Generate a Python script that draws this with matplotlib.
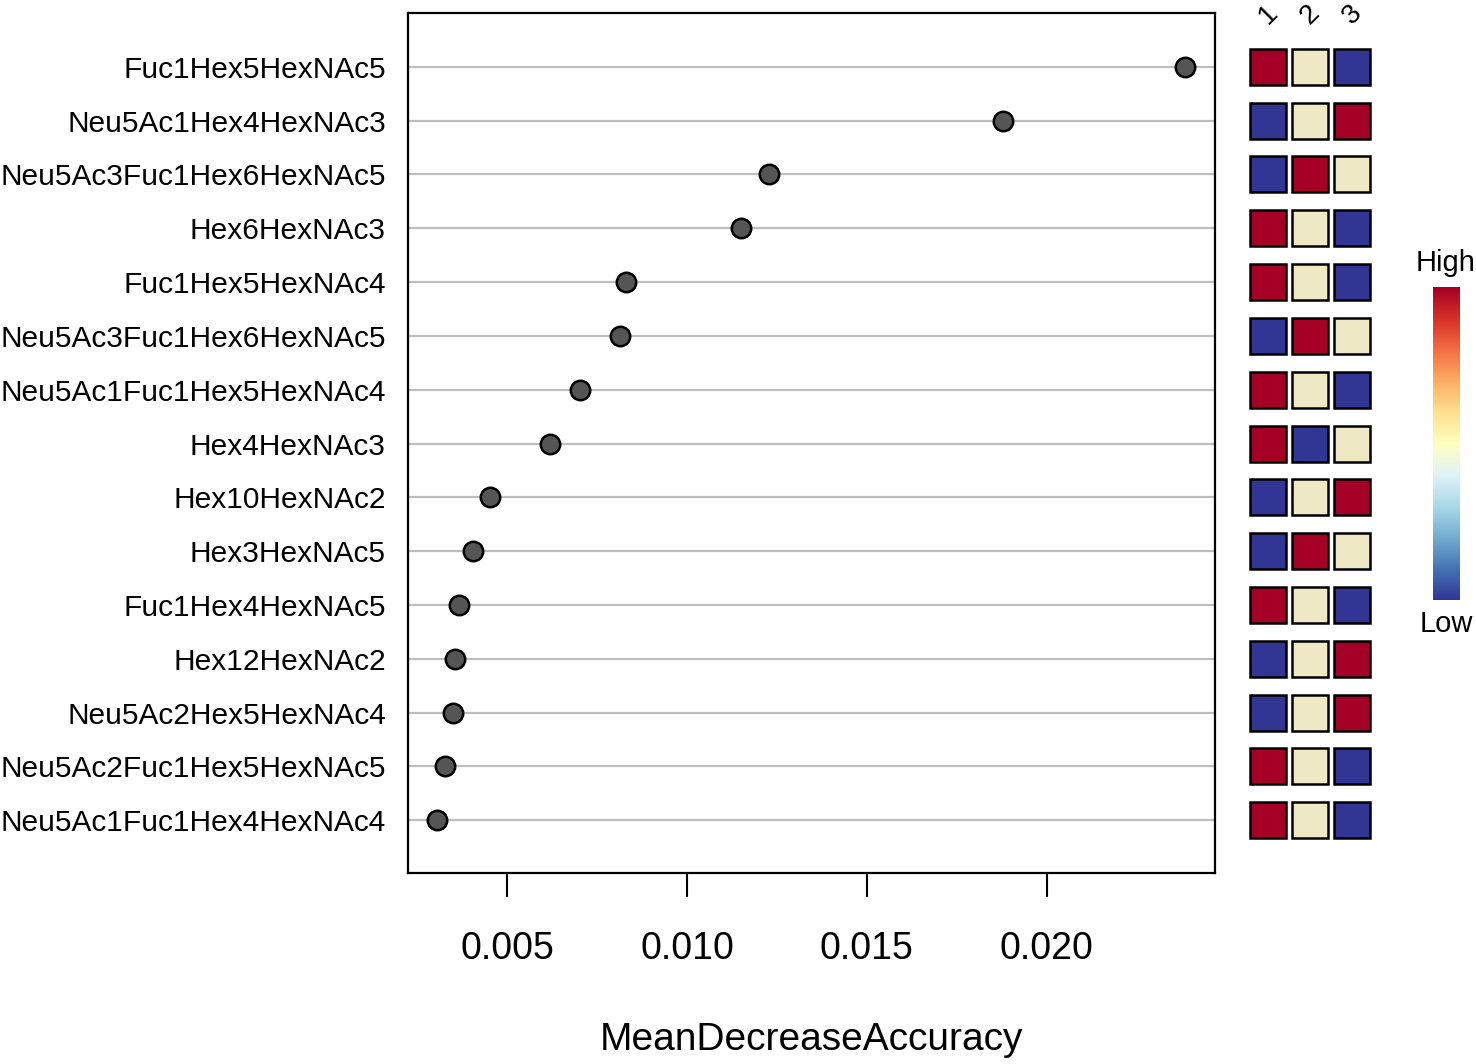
import numpy as np
import matplotlib.pyplot as plt
from matplotlib.patches import Rectangle

plt.rcParams['font.family'] = ['Liberation Sans', 'DejaVu Sans']

# Glycan features, top to bottom
features = ["Fuc1Hex5HexNAc5", "Neu5Ac1Hex4HexNAc3", "Neu5Ac3Fuc1Hex6HexNAc5",
            "Hex6HexNAc3", "Fuc1Hex5HexNAc4", "Neu5Ac3Fuc1Hex6HexNAc5",
            "Neu5Ac1Fuc1Hex5HexNAc4", "Hex4HexNAc3", "Hex10HexNAc2",
            "Hex3HexNAc5", "Fuc1Hex4HexNAc5", "Hex12HexNAc2",
            "Neu5Ac2Hex5HexNAc4", "Neu5Ac2Fuc1Hex5HexNAc5", "Neu5Ac1Fuc1Hex4HexNAc4"]

mda = [0.02383, 0.01878, 0.01228, 0.01150, 0.00830, 0.00814, 0.00703, 0.00619,
       0.00453, 0.00406, 0.00367, 0.00356, 0.00350, 0.00328, 0.00306]

# relative level per group (1 = high, 0 = mid, -1 = low)
groups = ["1", "2", "3"]
levels = [[1, 0, -1], [-1, 0, 1], [-1, 1, 0], [1, 0, -1], [1, 0, -1],
          [-1, 1, 0], [1, 0, -1], [1, -1, 0], [-1, 0, 1], [-1, 1, 0],
          [1, 0, -1], [-1, 0, 1], [-1, 0, 1], [1, 0, -1], [1, 0, -1]]

W, H = 1476, 1064
fig = plt.figure(figsize=(W / 100, H / 100), dpi=100)

def box(x0, y0, x1, y1):
    return [x0 / W, 1 - y1 / H, (x1 - x0) / W, (y1 - y0) / H]

ax = fig.add_axes(box(408, 13, 1215, 873))
y = np.arange(1, len(features) + 1)
for yi in y:
    ax.axhline(yi, color='#bebebe', lw=1.6, zorder=1)
ax.plot(mda, y, 'o', ms=14, mfc='#555555', mec='black', mew=1.8, zorder=3)
ax.set_xlim(0.00225, 0.02467)
ax.set_ylim(len(features) + 0.98, 0.0)
ax.set_yticks(y)
ax.set_yticklabels(features, fontsize=21.5)
ax.tick_params(axis='y', length=0, pad=16)
ax.set_xticks([0.005, 0.010, 0.015, 0.020])
ax.set_xticklabels(["0.005", "0.010", "0.015", "0.020"], fontsize=27)
ax.tick_params(axis='x', length=17, width=1.5, pad=25)
ax.set_xlabel("MeanDecreaseAccuracy", fontsize=28, labelpad=39)
for s in ax.spines.values():
    s.set_linewidth(1.6)

# group heatmap as separate boxes
hm = fig.add_axes(box(1247, 13, 1373, 873))
cell_cols = {1: '#a50026', 0: '#eee8c4', -1: '#313695'}
for i, row in enumerate(levels):
    for j, v in enumerate(row):
        hm.add_patch(Rectangle((j + 1 - 0.43, i + 1 - 0.335), 0.86, 0.67,
                               facecolor=cell_cols[v], edgecolor='black', lw=1.8))
hm.set_xlim(0.5, 3.5)
hm.set_ylim(len(features) + 0.98, 0.0)
hm.axis('off')
for j, g in enumerate(groups):
    fig.text((1268 + 42 * j) / W, 1 - 15 / H, g, rotation=45,
             ha='center', va='center', fontsize=20)

# colour key
cb = fig.add_axes(box(1433, 287, 1460, 600))
grad = np.linspace(1, 0, 256).reshape(-1, 1)
cb.imshow(grad, aspect='auto', cmap='RdYlBu_r')
cb.set_xticks([])
cb.set_yticks([])
for s in cb.spines.values():
    s.set_visible(False)
fig.text(1446 / W, 1 - 263 / H, "High", ha='center', va='center', fontsize=21)
fig.text(1446 / W, 1 - 624 / H, "Low", ha='center', va='center', fontsize=21)

fig.savefig("out.png", dpi=100)
